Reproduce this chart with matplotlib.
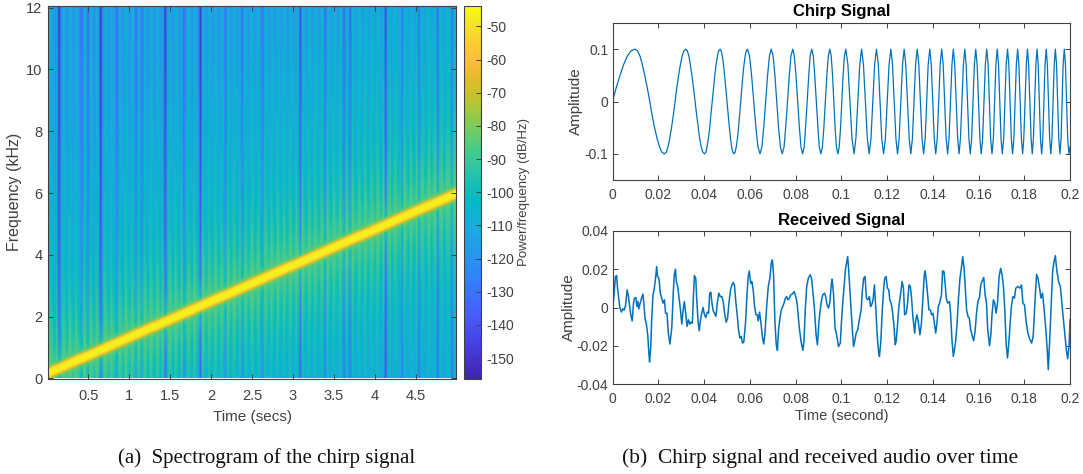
import numpy as np
import matplotlib
matplotlib.use('Agg')
import matplotlib.pyplot as plt
from matplotlib.colors import LinearSegmentedColormap

plt.rcParams['font.family'] = ['Liberation Sans', 'DejaVu Sans']
plt.rcParams['axes.unicode_minus'] = False

# Spectrogram readings: stripe level (dB) and ridge frequency (kHz) per time column
stripe_db = [
    3, 6, 1, -4, 5, -28, -5, 6, 2, -5, 7, 2, -4, 6, 1, -5, -14, 7, 1, -14,
    6, 2, -5, 6, 0, -28, -6, 7, 2, -4, 6, 1, -5, -14, 6, 1, -4, 7, 2, -5,
    6, 1, -14, 5, 1, -14, 6, 2, -4, 7, 1, -5, 6, 2, -4, 6, -28, -5, 7, 2,
    -4, 6, 1, -5, 7, -16, -4, 6, 2, -5, 7, 1, -4, -28, 6, 2, -5, 6, 1, -4,
    7, 2, -5, 6, 1, -14, 6, 2, -5, 7, 1, -4, 6, -14, 1, 6, -5, 2, 7, -4,
    1, 6, -5, -14, 7, 2, -4, 6, 1, -5, 7, 2, -4, 6, 1, -5, 7, 1, -4, 6,
    2, -24, 7, 1, -5, 6, 2, -4, 7, 1, -5, 6, 2, -16, 7, 1, -4, 6, 2, -5,
    7, 1, -18, 6, 2, -18, 7, 1, -4, 6, 2, -5, 7, 1, -4, 6, 2, -5, 7, 1,
    -4, 6, -26, 1, 7, -5, 2, 6, -4, 1, -14, 7, 2, -5, 6, 1, -4, 7, -16, 2,
    6, -5, 1, 7, -4, 2, 6, -18, 1, 7, -5, 2, 6, 1, -16, 7, 2]
ridge_khz = [
    .15, .18, .21, .24, .27, .30, .33, .36, .39, .42,
    .45, .48, .51, .54, .57, .60, .63, .65, .68, .71,
    .74, .77, .80, .83, .86, .89, .92, .95, .98, 1.01,
    1.04, 1.07, 1.10, 1.13, 1.16, 1.19, 1.22, 1.25, 1.28, 1.31,
    1.34, 1.37, 1.40, 1.43, 1.46, 1.49, 1.52, 1.55, 1.58, 1.61,
    1.64, 1.66, 1.69, 1.72, 1.75, 1.78, 1.81, 1.84, 1.87, 1.90,
    1.93, 1.96, 1.99, 2.02, 2.05, 2.08, 2.11, 2.14, 2.17, 2.20,
    2.23, 2.26, 2.29, 2.32, 2.35, 2.38, 2.41, 2.44, 2.47, 2.50,
    2.53, 2.56, 2.59, 2.62, 2.64, 2.67, 2.70, 2.73, 2.76, 2.79,
    2.82, 2.85, 2.88, 2.91, 2.94, 2.97, 3.00, 3.03, 3.06, 3.09,
    3.12, 3.15, 3.18, 3.21, 3.24, 3.27, 3.30, 3.33, 3.36, 3.39,
    3.42, 3.45, 3.48, 3.51, 3.54, 3.57, 3.60, 3.62, 3.65, 3.68,
    3.71, 3.74, 3.77, 3.80, 3.83, 3.86, 3.89, 3.92, 3.95, 3.98,
    4.01, 4.04, 4.07, 4.10, 4.13, 4.16, 4.19, 4.22, 4.25, 4.28,
    4.31, 4.34, 4.37, 4.40, 4.43, 4.46, 4.49, 4.52, 4.55, 4.58,
    4.60, 4.63, 4.66, 4.69, 4.72, 4.75, 4.78, 4.81, 4.84, 4.87,
    4.90, 4.93, 4.96, 4.99, 5.02, 5.05, 5.08, 5.11, 5.14, 5.17,
    5.20, 5.23, 5.26, 5.29, 5.32, 5.35, 5.38, 5.41, 5.44, 5.47,
    5.50, 5.53, 5.56, 5.58, 5.61, 5.64, 5.67, 5.70, 5.73, 5.76,
    5.79, 5.82, 5.85, 5.88, 5.91, 5.94, 5.97]

# Level against distance from the ridge
dist_above = [0, .09, .13, .18, .25, .4, 1, 2, 3, 5, 8, 12]
db_above = [-46, -47, -54, -72, -86, -90, -95, -101, -105, -109, -114, -116]
dist_below = [0, .09, .13, .18, .25, .4, 1, 2, 3, 5, 6]
db_below = [-46, -47, -54, -72, -86, -90, -95, -101, -105, -109, -110]
stripe_dist = [0, .17, .4, 1.0]
stripe_weight = [0, .1, .8, 1.2]

# Chirp signal, time in ms
chirp_t = [
    0, 1.6, 3.3, 4.9, 6.5, 8.2, 9.8,
    10.9, 12.0, 13.0, 14.1, 15.2, 16.3, 17.3, 18.4, 19.5, 20.6, 21.6, 22.7,
    23.5, 24.25, 25.0, 25.8, 26.6, 27.35, 28.1, 28.9, 29.7, 30.45, 31.2, 32.0,
    32.7, 33.4, 34.0, 34.7, 35.4, 36.1, 36.8, 37.5, 38.1, 38.8, 39.5, 40.2,
    40.8, 41.3, 41.9, 42.5, 43.0, 43.6, 44.2, 44.7, 45.3, 45.9, 46.4, 47.0,
    47.5, 48.0, 48.5, 49.0, 49.5, 50.05, 50.6, 51.1, 51.6, 52.1, 52.6, 53.1,
    53.6, 54.1, 54.6, 55.1, 55.55, 56.05, 56.5, 57.0, 57.5, 58.0, 58.5, 59.0,
    59.9, 60.8, 61.75, 62.7, 63.6, 64.5,
    65.3, 66.1, 66.95, 67.8, 68.6, 69.4,
    70.2, 71.0, 71.8, 72.6, 73.4, 74.2,
    75.0, 75.7, 76.5, 77.3, 78.0, 78.8,
    79.5, 80.2, 80.95, 81.7, 82.4, 83.1,
    83.8, 84.4, 85.1, 85.8, 86.4, 87.1,
    87.8, 88.4, 89.1, 89.8, 90.4, 91.1,
    91.75, 92.4, 93.05, 93.7, 94.35, 95.0,
    95.6, 96.2, 96.75, 97.3, 97.9, 98.5,
    99.1, 99.7, 100.25, 100.8, 101.4, 102.0,
    102.9, 103.8, 104.7, 105.6, 106.4, 107.25, 108.1, 108.9,
    109.7, 110.55, 111.4, 112.2, 113.0, 113.8, 114.6, 115.4,
    116.2, 116.95, 117.7, 118.5, 119.3, 120.1, 120.9, 121.7,
    122.4, 123.15, 123.9, 124.6, 125.3, 126.05, 126.8, 127.5,
    128.2, 128.95, 129.7, 130.4, 131.1, 131.8, 132.5, 133.2,
    133.9, 134.6, 135.3, 136.0, 136.7, 137.35, 138.0, 138.7,
    139.35, 140.0, 140.65, 141.3, 141.95, 142.6, 143.25, 143.9,
    144.55, 145.2, 145.85, 146.5, 147.1, 147.75, 148.4, 149.0,
    149.6, 150.25, 150.9, 151.5, 152.1, 152.75, 153.4, 154.0,
    154.6, 155.2, 155.8, 156.4, 157.0, 157.6, 158.2, 158.8,
    159.4, 160.0, 160.6, 161.2, 161.8, 162.4, 163.0, 163.6,
    164.2, 164.75, 165.3, 165.9, 166.5, 167.05, 167.6, 168.2,
    168.75, 169.3, 169.85, 170.4, 171.0, 171.55, 172.1, 172.7,
    173.25, 173.8, 174.35, 174.9, 175.45, 176.0, 176.55, 177.1,
    177.65, 178.2, 178.75, 179.3, 179.8, 180.35, 180.9, 181.4,
    181.9, 182.45, 183.0, 183.5, 184.0, 184.55, 185.1, 185.6,
    186.1, 186.6, 187.1, 187.6, 188.1, 188.6, 189.1, 189.6,
    190.1, 190.6, 191.1, 191.6, 192.1, 192.6, 193.1, 193.6,
    194.1, 194.6, 195.1, 195.6, 196.1, 196.55, 197.0, 197.5,
    198.0, 198.5, 199.0, 199.5, 200.0]
chirp_v = [
    0, .026, .05, .071, .087, .097, .1,
    .097, .087, .071, .05, .026, 0, -.026, -.05, -.071, -.087, -.097, -.1,
    -.097, -.087, -.071, -.05, -.026, 0, .026, .05, .071, .087, .097, .1,
    .097, .087, .071, .05, .026, 0, -.026, -.05, -.071, -.087, -.097, -.1,
    -.097, -.087, -.071, -.05, -.026, 0, .026, .05, .071, .087, .097, .1,
    .097, .087, .071, .05, .026, 0, -.026, -.05, -.071, -.087, -.097, -.1,
    -.097, -.087, -.071, -.05, -.026, 0, .026, .05, .071, .087, .097, .1,
    .087, .05, 0, -.05, -.087, -.1,
    -.087, -.05, 0, .05, .087, .1,
    .087, .05, 0, -.05, -.087, -.1,
    -.087, -.05, 0, .05, .087, .1,
    .087, .05, 0, -.05, -.087, -.1,
    -.087, -.05, 0, .05, .087, .1,
    .087, .05, 0, -.05, -.087, -.1,
    -.087, -.05, 0, .05, .087, .1,
    .087, .05, 0, -.05, -.087, -.1,
    -.087, -.05, 0, .05, .087, .1,
    .071, 0, -.071, -.1, -.071, 0, .071, .1,
    .071, 0, -.071, -.1, -.071, 0, .071, .1,
    .071, 0, -.071, -.1, -.071, 0, .071, .1,
    .071, 0, -.071, -.1, -.071, 0, .071, .1,
    .071, 0, -.071, -.1, -.071, 0, .071, .1,
    .071, 0, -.071, -.1, -.071, 0, .071, .1,
    .071, 0, -.071, -.1, -.071, 0, .071, .1,
    .071, 0, -.071, -.1, -.071, 0, .071, .1,
    .071, 0, -.071, -.1, -.071, 0, .071, .1,
    .071, 0, -.071, -.1, -.071, 0, .071, .1,
    .071, 0, -.071, -.1, -.071, 0, .071, .1,
    .071, 0, -.071, -.1, -.071, 0, .071, .1,
    .071, 0, -.071, -.1, -.071, 0, .071, .1,
    .071, 0, -.071, -.1, -.071, 0, .071, .1,
    .071, 0, -.071, -.1, -.071, 0, .071, .1,
    .071, 0, -.071, -.1, -.071, 0, .071, .1,
    .071, 0, -.071, -.1, -.071, 0, .071, .1,
    .071, 0, -.071, -.1, -.071, 0, .071, .1,
    .071, 0, -.071, -.1, -.071, 0, .071, .1,
    .071, 0, -.071, -.1, -.087]

# Received signal, time in ms, amplitude in thousandths
received_t = [
    0.0, 0.4, 0.9, 1.3, 1.8, 2.2, 2.8, 3.2, 3.9, 4.5, 5.1, 5.7, 6.4, 7.0, 7.5, 8.0,
    8.6, 9.2, 9.6, 10.2, 10.7, 11.1, 11.5, 12.1, 12.7, 13.3, 13.7, 14.2, 14.8, 15.4,
    15.9, 16.2, 16.7, 17.1, 17.7, 18.3, 18.9, 19.3, 19.7, 20.3, 20.9, 21.5, 22.1, 22.7,
    23.2, 23.8, 24.4, 25.1, 25.9, 26.6, 27.0, 27.5, 27.9, 28.5, 29.1, 29.7, 30.3, 30.8,
    31.4, 32.0, 32.6, 33.2, 33.8, 34.4, 34.9, 35.4, 35.8, 36.4, 36.8, 37.4, 37.9, 38.5,
    39.0, 39.6, 40.2, 40.8, 41.4, 42.0, 42.5, 43.0, 43.4, 44.0, 44.6, 45.2, 45.8, 46.5,
    47.1, 47.8, 48.4, 49.0, 49.7, 50.3, 50.9, 51.6, 52.2, 52.8, 53.3, 53.9, 54.5, 55.1,
    55.7, 56.3, 56.8, 57.4, 58.2, 58.8, 59.3, 59.8, 60.4, 60.9, 61.5, 62.1, 62.7, 63.3,
    63.7, 64.3, 64.9, 65.5, 66.1, 66.6, 67.4, 68.1, 68.8, 69.4, 69.9, 70.4, 71.0, 71.6,
    72.1, 72.6, 73.2, 73.8, 74.4, 75.0, 75.6, 76.1, 76.7, 77.3, 77.9, 78.6, 79.4, 80.1,
    80.7, 81.6, 82.4, 83.2, 83.7, 84.3, 84.9, 85.6, 86.4, 87.0, 87.6, 88.3, 89.0, 89.6,
    90.2, 90.8, 91.4, 91.9, 92.7, 93.2, 93.8, 94.4, 95.0, 95.6, 96.0, 96.6, 97.3, 98.1,
    98.8, 99.6, 100.1, 100.7, 101.3, 101.9, 102.4, 102.8, 103.2, 103.8, 104.4, 104.9,
    105.4, 105.9, 106.5, 107.2, 107.9, 108.7, 109.2, 109.8, 110.4, 111.0, 111.6, 112.3,
    112.8, 113.3, 113.9, 114.5, 115.1, 115.7, 116.3, 116.7, 117.3, 117.9, 118.5, 119.0,
    119.6, 120.2, 120.8, 121.2, 121.8, 122.4, 123.0, 123.6, 124.0, 124.6, 125.2, 125.9,
    126.6, 127.2, 127.7, 128.4, 129.0, 129.6, 130.2, 130.7, 131.3, 132.1, 132.6, 133.1,
    133.7, 134.4, 135.0, 135.7, 136.3, 136.7, 137.3, 137.9, 138.3, 138.9, 139.5, 140.1,
    140.7, 141.3, 141.9, 142.4, 143.0, 143.8, 144.3, 144.9, 145.4, 145.9, 146.5, 147.3,
    147.8, 148.4, 149.0, 149.6, 150.0, 150.6, 151.2, 151.9, 152.5, 153.1, 153.7, 154.2,
    154.8, 155.4, 156.0, 156.6, 157.3, 157.9, 158.5, 159.2, 159.8, 160.4, 161.0, 161.5,
    162.3, 162.9, 163.5, 164.0, 164.8, 165.4, 165.9, 166.5, 167.1, 167.7, 168.3, 169.0,
    169.7, 170.3, 170.9, 171.5, 172.1, 172.7, 173.4, 174.3, 175.0, 175.7, 176.3, 177.2,
    178.1, 178.8, 179.4, 180.1, 180.8, 181.6, 182.5, 183.2, 183.9, 184.8, 185.4, 186.0,
    186.7, 187.3, 188.0, 188.7, 189.5, 190.1, 190.5, 191.1, 191.8, 192.4, 193.0, 193.6,
    194.2, 195.0, 195.8, 196.5, 197.2, 197.8, 198.4, 199.0, 199.6, 200.0]
received_v = [
    0.0, 3.1, 10.1, 16.2, 16.7, 10.1, 4.0, 0.0, -2.4, -0.7, -1.4, 1.0, 9.2, 5.7, 0.5, -3.8,
    -7.0, 2.3, 4.9, 5.2, 0.5, 3.1, -0.7, 2.3, 4.9, 7.0, 2.3, -5.6, -8.7, -14.3,
    -23.8, -28.5, -21.2, -7.3, 6.6, 10.1, 16.2, 21.4, 16.2, 15.3, 7.5, 4.9, 2.3, 4.0,
    -3.0, -3.0, -13.4, -19.1, -10.8, 8.4, 17.1, 20.0, 13.6, 11.0, 4.9, -1.2, -8.7, -2.1,
    3.1, -3.0, -9.9, -6.4, -8.7, -7.7, -8.2, 6.6, 16.7, 15.3, 4.9, -7.3, -12.2, -6.4,
    -3.0, 0.0, -3.8, -5.2, -2.4, -3.0, 7.5, 8.0, 3.1, -1.7, -3.0, -4.7, 2.3, 7.5,
    5.7, 5.7, 3.1, -3.0, -7.7, -5.6, 2.3, 9.2, 11.8, 13.1, 11.8, 3.1, -3.8, -11.7,
    -16.0, -15.1, -18.6, -18.1, -7.3, 6.6, 16.2, 19.1, 12.7, 13.6, 9.2, 0.5, -3.8, -3.8,
    -7.0, -2.4, -8.2, -15.1, -19.1, -14.3, 0.5, 11.0, 15.3, 23.1, 24.9, 17.1, -7.3, -19.5,
    -22.4, -11.7, -5.6, -1.2, 0.5, 2.3, 4.9, 5.7, 4.0, 4.9, 6.6, 7.0, 8.4, 5.7,
    2.3, -9.9, -17.7, -22.4, -17.7, -0.3, 11.0, 15.3, 17.1, 15.3, 8.4, -1.2, -14.3, -19.5,
    -8.2, -1.2, 4.0, 6.6, 7.5, 5.7, 1.4, -0.3, 2.3, 11.8, 14.8, 7.5, -10.8, -15.1,
    -20.4, -18.6, -7.3, 3.1, 11.8, 20.5, 24.0, 26.6, 20.5, 8.4, -3.0, -12.5,
    -20.4, -17.7, -13.4, -11.7, -6.4, -1.2, 8.4, 15.3, 16.2, 4.9, 4.0, 5.7,
    0.5, 1.4, 4.0, 11.8, -0.3, -14.3, -23.0, -25.6, -17.7, -2.1, 9.2, 15.3,
    16.2, 10.1, 9.2, 4.0, 2.3, -2.1, -9.0, -19.5, -17.7, -9.0, 0.5, 6.6,
    13.6, 10.1, -3.8, -3.0, 2.3, 11.8, 11.0, 5.7, -4.7, -13.4, -6.4, -3.8,
    -7.7, -14.3, -9.0, 4.9, 17.1, 19.1, 12.7, 4.9, -1.2, -1.2, -3.8, -3.0,
    -8.2, -13.4, -7.3, 0.5, 2.3, 6.6, 19.1, 18.8, 12.7, 4.9, 2.3, 3.1,
    -3.0, -16.9, -25.6, -21.2, -17.7, -9.0, 4.0, 15.3, 20.5, 26.6, 20.5, 11.0,
    -1.2, -4.7, -5.6, -11.7, -15.1, -17.4, -12.5, -2.1, 3.7, 4.9, 11.8, 13.6,
    15.7, 6.6, 2.3, -10.8, -20.0, -14.3, -3.8, 4.0, 2.3, -3.0, 2.3, 16.2,
    20.5, 17.1, 11.0, -1.2, -19.5, -26.4, -16.0, -0.3, 5.7, 4.9, 10.1, 11.0,
    10.1, 11.8, 2.3, 1.4, -7.3, -13.4, -16.9, -18.6, -15.1, 5.7, 17.4, 15.3,
    10.1, 4.9, 7.5, -1.2, -12.5, -23.0, -32.5, -17.7, 2.3, 18.8, 24.0, 27.1,
    19.7, 13.6, 11.0, 1.4, -7.3, -15.1, -22.1, -26.8, -19.5, -6.4]

spec_xticks = [.5, 1, 1.5, 2, 2.5, 3, 3.5, 4, 4.5]
spec_xlabels = ['0.5', '1', '1.5', '2', '2.5', '3', '3.5', '4', '4.5']
spec_yticks = [0, 2, 4, 6, 8, 10, 12]
cbar_ticks = [-50, -60, -70, -80, -90, -100, -110, -120, -130, -140, -150]
time_ticks = [0, .02, .04, .06, .08, .1, .12, .14, .16, .18, .2]
time_labels = ['0', '0.02', '0.04', '0.06', '0.08', '0.1', '0.12', '0.14', '0.16', '0.18', '0.2']

parula = LinearSegmentedColormap.from_list('parula', [
    (0.2422, 0.1504, 0.6603), (0.2647, 0.1978, 0.7952), (0.2783, 0.2559, 0.8991),
    (0.2810, 0.3228, 0.9579), (0.2699, 0.3892, 0.9906), (0.2206, 0.4603, 0.9973),
    (0.1786, 0.5289, 0.9682), (0.1540, 0.5902, 0.9218), (0.1248, 0.6459, 0.8883),
    (0.0689, 0.6948, 0.8394), (0.0067, 0.7312, 0.7660), (0.0964, 0.7500, 0.7120),
    (0.1938, 0.7758, 0.6251), (0.2906, 0.7973, 0.5188), (0.4456, 0.8024, 0.3909),
    (0.6174, 0.7876, 0.2612), (0.7738, 0.7598, 0.1646), (0.9035, 0.7330, 0.1774),
    (0.9956, 0.7434, 0.2371), (0.9892, 0.8136, 0.1885), (0.9610, 0.8890, 0.1537),
    (0.9769, 0.9839, 0.0805)], N=256)

W, H = 1083, 474
DARK = '#404040'


def box(x0, y0, x1, y1):
    return [x0 / W, 1 - y1 / H, (x1 - x0) / W, (y1 - y0) / H]


def style(ax, fs=10, xpad=6, ypad=3):
    ax.tick_params(which='both', direction='in', length=3.5, width=0.7, top=True, right=True,
                   colors=DARK, labelsize=fs)
    ax.tick_params(axis='x', pad=xpad)
    ax.tick_params(axis='y', pad=ypad)
    for s in ax.spines.values():
        s.set_linewidth(0.8)
        s.set_color(DARK)


fig = plt.figure(figsize=(W / 100, H / 100), dpi=100)

# (a) spectrogram
freqs = np.arange(0, 12.1, 0.03)
d = freqs[:, None] - np.array(ridge_khz)[None, :]
skirt = np.where(d >= 0, np.interp(d, dist_above, db_above), np.interp(-d, dist_below, db_below))
spec = skirt + np.array(stripe_db)[None, :] * np.interp(np.abs(d), stripe_dist, stripe_weight)

ax1 = fig.add_axes(box(48, 5.5, 456, 379))
im = ax1.imshow(spec, origin='lower', aspect='auto', extent=[0, 5, 0, 12.09], cmap=parula,
                vmin=-156.3, vmax=-43.7, interpolation='bilinear')
ax1.set_xlim(0.005, 4.995)
ax1.set_ylim(-0.02, 12.07)
ax1.set_xticks(spec_xticks, spec_xlabels)
ax1.set_yticks(spec_yticks)
style(ax1, 10.5, xpad=7, ypad=4)
ax1.set_xlabel('Time (secs)', fontsize=11, color=DARK, labelpad=5)
ax1.set_ylabel('Frequency (kHz)', fontsize=11.5, color=DARK)
ax1.yaxis.set_label_coords((22 - 48) / 408, 0.5)

cax = fig.add_axes(box(464, 5.5, 481, 379))
cb = fig.colorbar(im, cax=cax, ticks=cbar_ticks)
cb.outline.set_linewidth(0.8)
cb.outline.set_edgecolor(DARK)
cax.tick_params(direction='in', length=3.5, width=0.7, colors=DARK, labelsize=10, pad=4)
cb.set_label('Power/frequency (dB/Hz)', fontsize=9.5, color=DARK)
cax.yaxis.set_label_coords((518 - 464) / 17, 0.5)

# (b) chirp and received audio
ax2 = fig.add_axes(box(612.5, 23, 1070, 180))
ax2.plot(np.array(chirp_t) / 1000, chirp_v, color='#0072BD', lw=0.9)
ax2.set_xlim(0, 0.2)
ax2.set_ylim(-0.15, 0.15)
ax2.set_xticks(time_ticks, time_labels)
ax2.set_yticks([-0.1, 0, 0.1], ['-0.1', '0', '0.1'])
style(ax2)
ax2.set_ylabel('Amplitude', fontsize=11, color=DARK)
ax2.yaxis.set_label_coords((583 - 612.5) / 457.5, 0.5)
ax2.set_title('Chirp Signal', fontsize=12, fontweight='bold', pad=5)

ax3 = fig.add_axes(box(612.5, 231, 1070, 384))
ax3.plot(np.array(received_t) / 1000, np.array(received_v) / 1000, color='#0072BD', lw=1.1)
ax3.set_xlim(0, 0.2)
ax3.set_ylim(-0.04, 0.04)
ax3.set_xticks(time_ticks, time_labels)
ax3.set_yticks([-0.04, -0.02, 0, 0.02, 0.04], ['-0.04', '-0.02', '0', '0.02', '0.04'])
style(ax3)
ax3.set_ylabel('Amplitude', fontsize=11, color=DARK)
ax3.yaxis.set_label_coords((576 - 612.5) / 457.5, 0.5)
ax3.set_xlabel('Time (second)', fontsize=10.5, color=DARK, labelpad=2)
ax3.set_title('Received Signal', fontsize=12, fontweight='bold', pad=4)

# captions under the panels
fig.text(267 / W, 1 - 458 / H, '(a)  Spectrogram of the chirp signal', family='Liberation Serif',
         fontsize=15, color='#111111', ha='center', va='center')
fig.text(820 / W, 1 - 458 / H, '(b)  Chirp signal and received audio over time', family='Liberation Serif',
         fontsize=15.4, color='#111111', ha='center', va='center')

fig.savefig('out.png', dpi=100)
